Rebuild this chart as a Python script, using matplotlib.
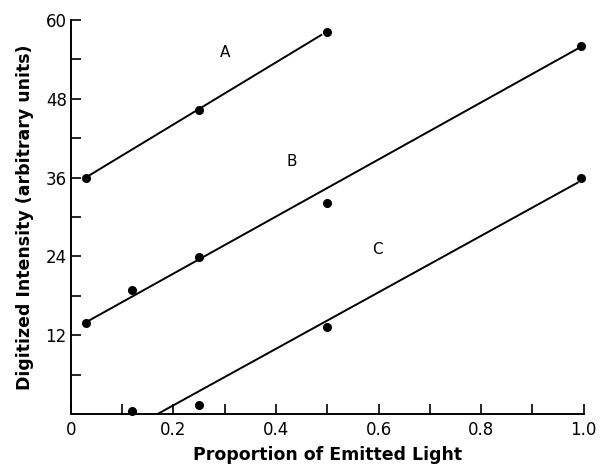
import matplotlib
matplotlib.use("Agg")
import matplotlib.pyplot as plt

# measured points (proportion of emitted light, digitized intensity)
a_x = [0.03, 0.25, 0.50]
a_y = [36.0, 46.3, 58.1]
b_x = [0.03, 0.12, 0.25, 0.50, 0.995]
b_y = [13.9, 18.9, 23.9, 32.1, 56.0]
c_x = [0.12, 0.25, 0.50, 0.995]
c_y = [0.5, 1.4, 13.3, 36.0]

# fitted line end points
a_line_x = [0.035, 0.49]
a_line_y = [36.3, 57.8]
b_line_x = [0.03, 0.99]
b_line_y = [14.0, 55.7]
c_line_x = [0.169, 0.99]
c_line_y = [0.0, 35.3]

labels = ["A", "B", "C"]
label_x = [0.30, 0.43, 0.597]
label_y = [55.0, 38.4, 25.0]

x_ticks = [0, 0.2, 0.4, 0.6, 0.8, 1.0]
x_tick_labels = ["0", "0.2", "0.4", "0.6", "0.8", "1.0"]
x_minor = [0.1, 0.3, 0.5, 0.7, 0.9]
y_ticks = [12, 24, 36, 48, 60]
y_tick_labels = ["12", "24", "36", "48", "60"]
y_minor = [6, 18, 30, 42, 54]

fig = plt.figure(figsize=(6.01, 4.71), dpi=100)
ax = fig.add_axes([0.118, 0.121, 0.853, 0.8365])

for lx, ly in [(a_line_x, a_line_y), (b_line_x, b_line_y), (c_line_x, c_line_y)]:
    ax.plot(lx, ly, color="black", lw=1.4, solid_capstyle="butt")
for px, py in [(a_x, a_y), (b_x, b_y), (c_x, c_y)]:
    ax.plot(px, py, "o", color="black", ms=5.5, clip_on=False)

for t, tx, ty in zip(labels, label_x, label_y):
    ax.text(tx, ty, t, fontsize=11, ha="center", va="center")

ax.set_xlim(0, 1.0)
ax.set_ylim(0, 60)
ax.spines["top"].set_visible(False)
ax.spines["right"].set_visible(False)
for s in ("left", "bottom"):
    ax.spines[s].set_linewidth(1.4)

ax.set_xticks(x_ticks, labels=x_tick_labels)
ax.set_xticks(x_minor, minor=True)
ax.set_yticks(y_ticks, labels=y_tick_labels)
ax.set_yticks(y_minor, minor=True)
ax.tick_params(which="both", direction="in", length=7, width=1.2, labelsize=12)
ax.tick_params(axis="x", pad=5)
ax.tick_params(axis="y", pad=3)

ax.set_xlabel("Proportion of Emitted Light", fontsize=12.5, fontweight="bold", labelpad=5)
ax.set_ylabel("Digitized Intensity (arbitrary units)", fontsize=12.5, fontweight="bold", labelpad=8)

fig.savefig("out.png", dpi=100)
